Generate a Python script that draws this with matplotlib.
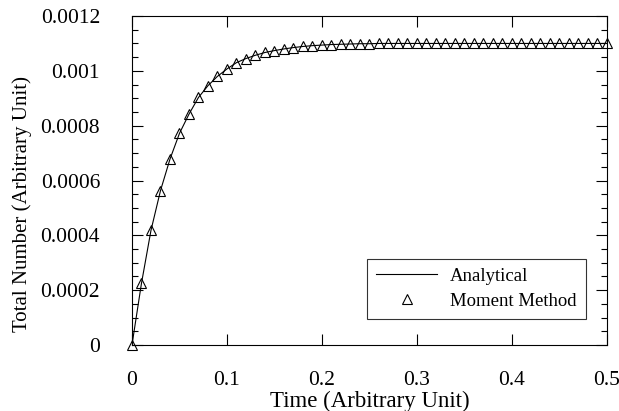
import matplotlib
matplotlib.use("Agg")
import matplotlib.pyplot as plt
from matplotlib.ticker import MultipleLocator

plt.rcParams['font.family'] = ['Liberation Serif', 'DejaVu Serif']

# time points (every 0.01) and total number
time = [0.00, 0.01, 0.02, 0.03, 0.04, 0.05, 0.06, 0.07, 0.08, 0.09,
        0.10, 0.11, 0.12, 0.13, 0.14, 0.15, 0.16, 0.17, 0.18, 0.19,
        0.20, 0.21, 0.22, 0.23, 0.24, 0.25, 0.26, 0.27, 0.28, 0.29,
        0.30, 0.31, 0.32, 0.33, 0.34, 0.35, 0.36, 0.37, 0.38, 0.39,
        0.40, 0.41, 0.42, 0.43, 0.44, 0.45, 0.46, 0.47, 0.48, 0.49, 0.50]
analytical = [0.0, 0.000225, 0.000418, 0.000563, 0.000678, 0.000772, 0.000842,
              0.000903, 0.000946, 0.000980, 0.001007, 0.001030, 0.001045,
              0.001057, 0.001067, 0.001074, 0.001080, 0.001085, 0.001089,
              0.001092, 0.001094, 0.001096, 0.001097, 0.001098, 0.001099,
              0.001099, 0.0011, 0.0011, 0.0011, 0.0011, 0.0011, 0.0011,
              0.0011, 0.0011, 0.0011, 0.0011, 0.0011, 0.0011, 0.0011, 0.0011,
              0.0011, 0.0011, 0.0011, 0.0011, 0.0011, 0.0011, 0.0011, 0.0011,
              0.0011, 0.0011, 0.0011]
moment = list(analytical)

yticks = [0, 0.0002, 0.0004, 0.0006, 0.0008, 0.001, 0.0012]
ytick_labels = ['0', '0.0002', '0.0004', '0.0006', '0.0008', '0.001', '0.0012']
xticks = [0, 0.1, 0.2, 0.3, 0.4, 0.5]
xtick_labels = ['0', '0.1', '0.2', '0.3', '0.4', '0.5']

fig = plt.figure(figsize=(6.19, 4.11), dpi=100)
ax = fig.add_axes([0.2132, 0.1606, 0.7674, 0.8004])

ax.plot(time, analytical, color='k', lw=0.8, label='Analytical')
ax.plot(time, moment, ls='none', marker='^', ms=7, mfc='none', mec='k',
        mew=0.8, clip_on=False, label='Moment Method')

ax.set_xlim(0, 0.5)
ax.set_ylim(0, 0.0012)
ax.set_xticks(xticks)
ax.set_xticklabels(xtick_labels)
ax.set_yticks(yticks)
ax.set_yticklabels(ytick_labels)
ax.yaxis.set_minor_locator(MultipleLocator(0.00005))

ax.tick_params(which='both', direction='in', top=True, right=True,
               labelsize=15.5, color='k')
ax.tick_params(which='major', length=8, width=0.8)
ax.tick_params(which='minor', length=4.5, width=0.8)
ax.tick_params(axis='y', pad=23)
ax.tick_params(axis='x', pad=19)
for s in ax.spines.values():
    s.set_linewidth(0.8)

ax.set_xlabel('Time (Arbitrary Unit)', fontsize=16.5, labelpad=0)
ax.set_ylabel('Total Number (Arbitrary Unit)', fontsize=15)
ax.yaxis.set_label_coords(-0.211, 0.43)

leg = ax.legend(loc='lower right', bbox_to_anchor=(0.956, 0.079),
                borderaxespad=0, fontsize=13.5, fancybox=False,
                edgecolor='k', handlelength=3.25, borderpad=0.5,
                labelspacing=0.4, handletextpad=0.7)
leg.get_frame().set_linewidth(0.8)

fig.savefig('out.png', dpi=100)
